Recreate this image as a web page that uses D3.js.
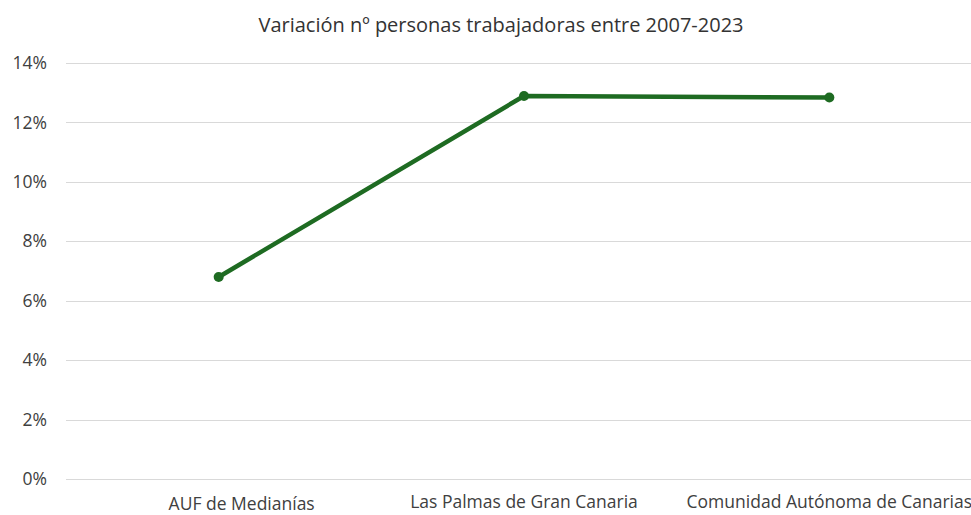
<!DOCTYPE html>
<html><head><meta charset="utf-8">
<script src="https://cdn.jsdelivr.net/npm/d3@7"></script>
<style>body{margin:0;background:#fff;overflow:hidden}svg{display:block}</style>
</head><body><svg id="c" width="971" height="515"></svg>
<script>
const categories = ["AUF de Medianías", "Las Palmas de Gran Canaria", "Comunidad Autónoma de Canarias"];
const values = [0.068, 0.1289, 0.1284];
const yTicks = [0, 0.02, 0.04, 0.06, 0.08, 0.10, 0.12, 0.14];
const title = "Variación nº personas trabajadoras entre 2007-2023";

const svg = d3.select("#c");
const font = "'Open Sans', 'Noto Sans', sans-serif";
const textColor = "#404040";
const m = {left: 66, right: -11, top: 63, bottom: 36};
const W = 971, H = 515;
const x = d3.scaleBand().domain(categories).range([m.left, W - m.right]).padding(0);
const y = d3.scaleLinear().domain([0, 0.14]).range([H - m.bottom, m.top]);

// grid
svg.append("g").selectAll("line").data(yTicks).join("line")
  .attr("x1", m.left).attr("x2", W - m.right)
  .attr("y1", d => Math.round(y(d)) + 0.5).attr("y2", d => Math.round(y(d)) + 0.5)
  .attr("stroke", "#d9d9d9").attr("stroke-width", 1);

// y axis labels
const yAxis = d3.axisLeft(y).tickValues(yTicks).tickFormat(d3.format(".0%")).tickSize(0).tickPadding(0);
const ga = svg.append("g").attr("transform", `translate(${m.left - 19},0)`).call(yAxis);
ga.select(".domain").remove();
ga.selectAll("text").attr("font-family", font).attr("font-size", 17.5).attr("fill", textColor);

// x axis labels
const xAxis = d3.axisBottom(x).tickSize(0).tickPadding(0);
const gx = svg.append("g").attr("transform", `translate(0,${H - m.bottom + 17})`).call(xAxis);
gx.select(".domain").remove();
gx.selectAll("text").attr("font-family", font).attr("font-size", 17.5).attr("fill", textColor)
  .attr("dy", "0.71em")
  .attr("dx", (d, i) => i === 0 ? 23 : 0)
  .attr("y", (d, i) => i === 0 ? 2 : 0);

// line
const color = "#1e6b22";
const line = d3.line().x((d, i) => x(categories[i]) + x.bandwidth() / 2).y(d => y(d));
svg.append("path").datum(values).attr("d", line).attr("fill", "none")
  .attr("stroke", color).attr("stroke-width", 4.5).attr("stroke-linejoin", "round");
svg.append("g").selectAll("circle").data(values).join("circle")
  .attr("cx", (d, i) => x(categories[i]) + x.bandwidth() / 2).attr("cy", d => y(d))
  .attr("r", 5).attr("fill", color);

// title
svg.append("text").attr("x", 501).attr("y", 32).attr("text-anchor", "middle")
  .attr("font-family", font).attr("font-size", 20).attr("fill", "#333").text(title);
</script></body></html>
